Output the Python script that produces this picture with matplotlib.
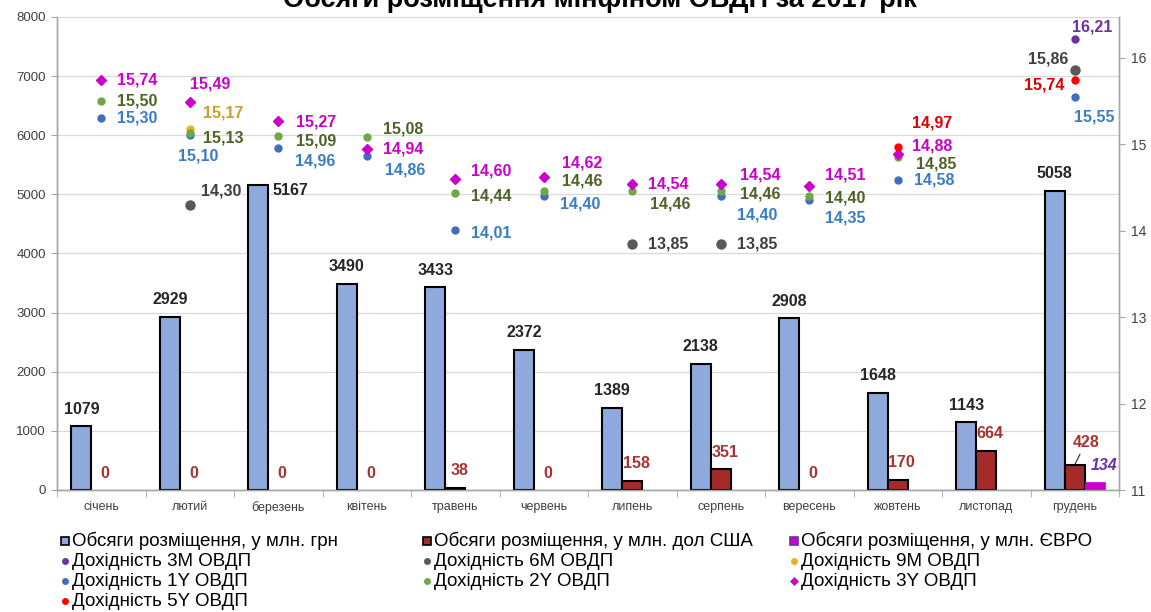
import numpy as np
import matplotlib
matplotlib.use('Agg')
import matplotlib.pyplot as plt
from matplotlib.lines import Line2D

plt.rcParams['font.family'] = ['Liberation Sans', 'DejaVu Sans']

W, H = 1151, 612
nan = np.nan

months = ['січень', 'лютий', 'березень', 'квітень', 'травень', 'червень',
          'липень', 'серпень', 'вересень', 'жовтень', 'листопад', 'грудень']

# placement volumes
vol_uah = [1079, 2929, 5167, 3490, 3433, 2372, 1389, 2138, 2908, 1648, 1143, 5058]
vol_usd = [0, 0, 0, 0, 38, 0, 158, 351, 0, 170, 664, 428]
vol_eur = [nan, nan, nan, nan, nan, nan, nan, nan, nan, nan, nan, 134]

# average yields by tenor, %
yld_3m = [nan, nan, nan, nan, nan, nan, nan, nan, nan, nan, nan, 16.21]
yld_6m = [nan, 14.30, nan, nan, nan, nan, 13.85, 13.85, nan, nan, nan, 15.86]
yld_9m = [nan, 15.17, nan, nan, nan, nan, nan, nan, nan, nan, nan, nan]
yld_1y = [15.30, 15.10, 14.96, 14.86, 14.01, 14.40, nan, 14.40, 14.35, 14.58, nan, 15.55]
yld_2y = [15.50, 15.13, 15.09, 15.08, 14.44, 14.46, 14.46, 14.46, 14.40, 14.85, nan, nan]
yld_3y = [15.74, 15.49, 15.27, 14.94, 14.60, 14.62, 14.54, 14.54, 14.51, 14.88, nan, nan]
yld_5y = [nan, nan, nan, nan, nan, nan, nan, nan, nan, 14.97, nan, 15.74]

C_UAH, C_USD, C_EUR = '#8EA9DB', '#A52A2A', '#CC00CC'
INK = '#262626'
TICK = '#404040'
SPINE = '#A6A6A6'

# name, values, marker, size, marker colour, label colour
series = [
    ('3M', yld_3m, 'o', 5.0, '#7030A0', '#7030A0'),
    ('6M', yld_6m, 'o', 6.5, '#595959', '#404040'),
    ('1Y', yld_1y, 'o', 5.0, '#3F6EBF', '#3B7DC4'),
    ('9M', yld_9m, 'o', 5.0, '#E6B422', '#C9A227'),
    ('2Y', yld_2y, 'o', 5.0, '#70A845', '#4F6228'),
    ('3Y', yld_3y, 'D', 4.8, '#CC00CC', '#CC00CC'),
    ('5Y', yld_5y, 'o', 5.0, '#FF0000', '#E00000'),
]

# label offsets in pixels (dx to the label edge, dy to its centre line)
label_pos = {
    '3M': {11: (-3, 12, 'left')},
    '6M': {1: (11, 14, 'left'), 11: (-6, 11, 'right')},
    '9M': {1: (13, 16, 'left')},
    '1Y': {1: (-12, -21, 'left'), 2: (17, -13, 'left'), 3: (18, -14, 'left'),
           4: (16, -3, 'left'), 5: (16, -8, 'left'), 7: (16, -19, 'left'),
           8: (16, -18, 'left'), 11: (-1, -20, 'left')},
    '2Y': {1: (13, -5, 'left'), 2: (18, -5, 'left'), 3: (16, 8, 'left'),
           4: (16, -3, 'left'), 5: (18, 10, 'left'), 6: (18, -13, 'left'),
           7: (19, -3, 'left'), 8: (16, -2, 'left'), 9: (18, -7, 'left')},
    '3Y': {1: (0, 18, 'left'), 2: (18, -1, 'left'), 4: (16, 8, 'left'),
           5: (18, 14, 'left'), 7: (19, 9, 'left'), 8: (16, 11, 'left'),
           9: (14, 8, 'left')},
    '5Y': {9: (14, 24, 'left'), 11: (-10, -5, 'right')},
}

x = np.arange(len(months))
bw = 0.225

fig = plt.figure(figsize=(W / 100, H / 100), dpi=100)
fig.patch.set_facecolor('white')
ax = fig.add_axes([57 / W, (H - 490) / H, (1119 - 57) / W, (490 - 17) / H])
ax2 = ax.twinx()

ax.bar(x - bw, vol_uah, bw, color=C_UAH, edgecolor='black', linewidth=1.5, zorder=3)
# empty months get no outline so nothing shows on the baseline
ax.bar(x, vol_usd, bw, color=C_USD, edgecolor='black',
       linewidth=[1.5 if v > 0 else 0 for v in vol_usd], zorder=3)
ax.bar(x + bw, vol_eur, bw, color=C_EUR, edgecolor=C_EUR, linewidth=0.5, zorder=3)

lab_font = dict(fontsize=11.5, weight='bold')
for i, v in enumerate(vol_uah):
    if i == 2:
        ax.annotate(f'{v}', (x[i] - bw, v), xytext=(14, -6), textcoords='offset pixels',
                    ha='left', va='center', color=INK, **lab_font)
    else:
        ax.annotate(f'{v}', (x[i] - bw, v), xytext=(0, 17), textcoords='offset pixels',
                    ha='center', va='center', color=INK, **lab_font)
for i, v in enumerate(vol_usd):
    if i == 11:
        ax.annotate(f'{v}', (x[i], v), xytext=(11, 22), textcoords='offset pixels',
                    ha='center', va='center', color='#A93232', **lab_font,
                    arrowprops=dict(arrowstyle='-', color=INK, lw=0.8,
                                    shrinkA=1, shrinkB=0))
    else:
        ax.annotate(f'{v}', (x[i], v), xytext=(4, 17), textcoords='offset pixels',
                    ha='center', va='center', color='#A93232', **lab_font)
for i, v in enumerate(vol_eur):
    if not np.isnan(v):
        ax.annotate(f'{v:.0f}', (x[i] + bw, v), xytext=(9, 17), textcoords='offset pixels',
                    ha='center', va='center', color='#7030A0', style='italic', **lab_font)

for name, vals, mk, ms, mc, lc in series:
    ax2.plot(x, vals, ls='none', marker=mk, ms=ms, color=mc, mec=mc, zorder=4)
    for i, v in enumerate(vals):
        if np.isnan(v):
            continue
        dx, dy, ha = label_pos.get(name, {}).get(i, (16, 0, 'left'))
        ax2.annotate(f'{v:.2f}'.replace('.', ','), (x[i], v), xytext=(dx, dy),
                     textcoords='offset pixels', ha=ha, va='center', color=lc,
                     **lab_font)

ax.set_xlim(-0.5, 11.5)
ax.set_ylim(0, 8000)
ax.set_yticks(range(0, 8001, 1000))
ax2.set_ylim(11, 16.47)
ax2.set_yticks(range(11, 17))

ax.set_xticks(x)
ax.set_xticklabels(months)
ax.set_xticks(np.arange(-0.5, 12, 1), minor=True)
ax.tick_params(axis='x', which='major', length=0, pad=8, labelsize=9, labelcolor=TICK)
ax.tick_params(axis='x', which='minor', length=5, color=SPINE, direction='out')
ax.tick_params(axis='y', length=4, color=SPINE, labelsize=9.5, labelcolor=TICK, pad=4)
ax2.tick_params(axis='y', length=4, color=SPINE, labelsize=10, labelcolor=TICK, pad=5)

ax.grid(axis='y', color='#D9D9D9', lw=0.9, zorder=0)
ax.set_axisbelow(True)
for a in (ax, ax2):
    a.spines['top'].set_visible(False)
    for s in ('left', 'right', 'bottom'):
        a.spines[s].set_color(SPINE)
        a.spines[s].set_linewidth(1.0)

fig.text(600 / W, 1 - 7 / H, 'Обсяги розміщення мінфіном ОВДП за 2017 рік',
         ha='center', va='baseline', fontsize=19.5, weight='bold', color='black')

# legend, laid out in rows of three
legend_items = [
    ('s', C_UAH, 'black', 'Обсяги розміщення, у млн. грн'),
    ('s', C_USD, 'black', 'Обсяги розміщення, у млн. дол США'),
    ('s', C_EUR, '#7030A0', 'Обсяги розміщення, у млн. ЄВРО'),
]
for name, vals, mk, ms, mc, lc in [series[0], series[1], series[3], series[2],
                                    series[4], series[5], series[6]]:
    legend_items.append((mk, mc, mc, f'Дохідність {name} ОВДП'))

col_x = [65, 427, 794]
row_y = [541, 561, 581, 601]
for k, (mk, fc, ec, text) in enumerate(legend_items):
    r, c = divmod(k, 3)
    mx, my = col_x[c] / W, 1 - row_y[r] / H
    size = 6 if mk == 's' else (4 if mk == 'D' else 4.5)
    fig.add_artist(Line2D([mx], [my], transform=fig.transFigure, ls='none',
                          marker=mk, ms=size, mfc=fc, mec=ec, mew=1.2 if mk == 's' else 0.5))
    fig.text(mx + 7 / W, my, text, ha='left', va='center', fontsize=13.5, color='black')

fig.savefig('out.png', dpi=100, facecolor='white')
